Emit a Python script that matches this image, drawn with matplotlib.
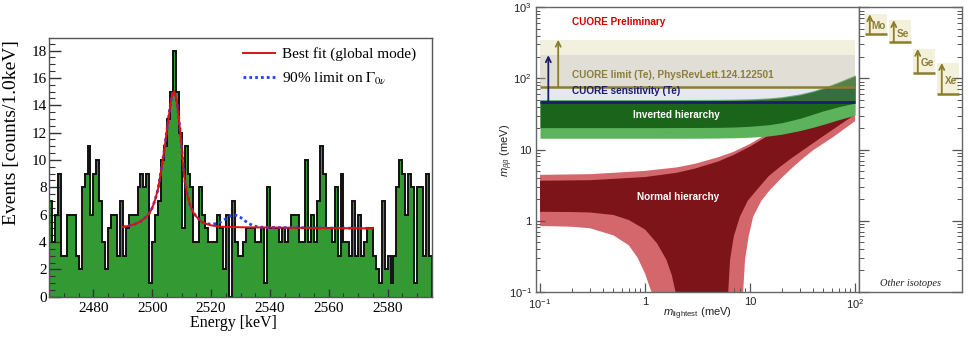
import numpy as np
import matplotlib
matplotlib.use("Agg")
import matplotlib.pyplot as plt
from matplotlib.patches import Rectangle
from matplotlib.ticker import MultipleLocator, FixedLocator, FixedFormatter, LogLocator, NullFormatter

plt.rcParams['mathtext.fontset'] = 'custom'
plt.rcParams['mathtext.rm'] = 'Liberation Sans'
plt.rcParams['mathtext.it'] = 'Liberation Sans:italic'
plt.rcParams['mathtext.bf'] = 'Liberation Sans:bold'

# ---------------- left panel data ----------------
e_start, e_stop, bin_width = 2465, 2595, 1
counts = [7, 4, 6, 9, 3, 3, 6, 6, 6, 3,
          2, 8, 9, 11, 6, 9, 10, 7, 4, 2,
          5, 6, 6, 3, 7, 3, 5, 6, 6, 6,
          8, 9, 8, 9, 1, 4, 6, 7, 10, 11,
          13, 15, 18, 15, 12, 5, 11, 9, 8, 4,
          4, 8, 6, 5, 4, 4, 4, 6, 5, 2,
          6, 0, 7, 4, 3, 3, 4, 5, 5, 5,
          4, 4, 5, 1, 8, 5, 5, 5, 4, 5,
          4, 5, 6, 6, 6, 4, 4, 10, 4, 6,
          4, 7, 11, 9, 5, 5, 4, 8, 3, 9,
          4, 4, 3, 7, 3, 6, 3, 4, 5, 5,
          3, 2, 1, 7, 2, 3, 1, 3, 8, 10,
          9, 6, 9, 8, 1, 8, 8, 3, 9, 3]

fit_x = [2490, 2492, 2494, 2496, 2498, 2499, 2500, 2501, 2502, 2503, 2504, 2505,
         2506, 2506.5, 2507, 2507.5, 2508, 2508.5, 2509, 2509.5, 2510, 2510.5,
         2511, 2512, 2513, 2514, 2515, 2516, 2517, 2518, 2520, 2523, 2530, 2545,
         2560, 2575]
fit_y = [5.10, 5.18, 5.30, 5.50, 5.85, 6.10, 6.50, 7.10, 7.90, 9.20, 10.6, 12.2,
         13.8, 14.5, 14.9, 15.0, 14.6, 14.0, 13.1, 12.1, 10.9, 9.6,
         8.6, 7.4, 6.6, 6.15, 5.85, 5.65, 5.45, 5.35, 5.22, 5.12, 5.08, 5.05,
         5.02, 5.00]

lim_x = [2490, 2492, 2494, 2496, 2498, 2499, 2500, 2501, 2502, 2503, 2504, 2505,
         2506, 2506.5, 2507, 2507.5, 2508, 2508.5, 2509, 2509.5, 2510, 2510.5,
         2511, 2512, 2513, 2514, 2515, 2516, 2517, 2518, 2520, 2522, 2523.5, 2525,
         2526.5, 2527.5, 2528.5, 2530, 2531.5, 2533, 2534.5, 2536, 2538, 2540,
         2545, 2560, 2575]
lim_y = [5.10, 5.18, 5.30, 5.50, 5.85, 6.10, 6.50, 7.10, 7.90, 9.20, 10.6, 12.2,
         13.8, 14.5, 14.9, 15.0, 14.6, 14.0, 13.1, 12.1, 10.9, 9.6,
         8.6, 7.4, 6.6, 6.15, 5.85, 5.65, 5.45, 5.35, 5.30, 5.35, 5.50, 5.70,
         5.90, 5.98, 5.95, 5.80, 5.55, 5.33, 5.18, 5.10, 5.07, 5.06,
         5.05, 5.02, 5.00]

# ---------------- right panel data ----------------
ih_x = [0.1, 1, 3, 5, 7, 10, 15, 20, 30, 40, 50, 70, 100]
ih3_lo = [14.4, 14.4, 14.4, 14.5, 14.6, 14.9, 15.5, 16.4, 18.5, 20.6, 22.6, 26.3, 30.5]
ih3_hi = [50.5, 50.5, 50.6, 50.8, 51.1, 51.7, 53.2, 55.3, 60.7, 67.3, 74.5, 90.0, 112.0]
ih1_lo = [20.3, 20.3, 20.4, 20.5, 20.7, 21.2, 22.3, 23.8, 27.5, 31.5, 35.0, 40.0, 45.0]
ih1_hi = [48.6, 48.6, 48.7, 48.9, 49.2, 49.8, 51.3, 53.3, 58.6, 65.0, 72.0, 87.0, 108.0]

nh3_lo_x = [0.1, 0.2, 0.3, 0.5, 0.7, 0.85, 1.0, 1.1, 1.15, 1.2, 8.5, 8.6, 8.96, 9.7,
            10.7, 12.8, 15.5, 20, 25.8, 32, 40, 60, 100]
nh3_lo_y = [0.84, 0.82, 0.78, 0.62, 0.45, 0.30, 0.18, 0.12, 0.10, 0.001, 0.001, 0.10,
            0.28, 0.60, 1.13, 1.9, 2.7, 4.0, 5.7, 7.5, 9.8, 14.5, 25.0]
nh3_hi_x = [0.1, 0.3, 1, 2, 3, 5, 7, 10, 15, 20, 30, 50, 100]
nh3_hi_y = [4.4, 4.5, 5.0, 5.6, 6.3, 7.8, 9.3, 12.0, 17.0, 22.0, 32.0, 52.0, 102.0]
nh1_lo_x = [0.1, 0.2, 0.3, 0.5, 0.7, 1.0, 1.3, 1.6, 1.8, 1.95, 2.05, 6.1, 6.2, 6.45,
            7.0, 8.0, 9.5, 11.6, 15, 19.3, 25, 32, 50, 100]
nh1_lo_y = [1.33, 1.32, 1.30, 1.20, 1.02, 0.75, 0.48, 0.28, 0.17, 0.10, 0.001, 0.001,
            0.10, 0.28, 0.60, 1.13, 1.9, 2.7, 4.2, 5.7, 7.6, 9.8, 15.5, 31.0]
nh1_hi_x = [0.1, 0.3, 1, 2, 3, 5, 7, 10, 15, 20, 30, 50, 100]
nh1_hi_y = [3.64, 3.70, 4.1, 4.7, 5.4, 6.8, 8.4, 11.0, 15.8, 20.8, 30.6, 50.5, 100.0]

band_x = [0.1, 100]
limit_value = 75
limit_band = (75, 350)
sens_value = 46
sens_band = (46, 212)

isotopes = ["Mo", "Se", "Ge", "Xe"]
iso_lo = [420, 320, 120, 61]
iso_hi = [800, 660, 260, 165]

# ---------------- colours ----------------
hist_green = '#339933'
olive = '#8c7d2a'
navy = '#1c1c6e'
ih_dark, ih_light = '#1a651a', '#5cb35c'
nh_dark, nh_light = '#7d1419', '#d4676c'

fig = plt.figure(figsize=(9.7, 3.37), dpi=100)

# ================= LEFT PANEL =================
ax = fig.add_axes([49.3/970, 1-296.7/337, 382.4/970, 258.4/337])
edges = np.arange(e_start, e_stop + bin_width, bin_width)
ax.stairs(counts, edges, fill=True, facecolor=hist_green, edgecolor='none', zorder=1)
ax.stairs(counts, edges, color='#111111', lw=1.4, zorder=2)
ax.plot(lim_x, lim_y, color='#2040ff', ls=(0, (1, 1.1)), lw=2.0, zorder=3,
        label=r'90% limit on $\Gamma_{0\nu}$')
ax.plot(fit_x, fit_y, color='#dd1111', lw=1.4, zorder=4, label='Best fit (global mode)')
ax.set_xlim(e_start, e_stop)
ax.set_ylim(0, 18.9)
ax.xaxis.set_major_locator(MultipleLocator(20))
ax.xaxis.set_minor_locator(MultipleLocator(5))
ax.yaxis.set_major_locator(MultipleLocator(2))
ax.yaxis.set_minor_locator(MultipleLocator(0.5))
ax.tick_params(which='both', direction='in', top=False, right=False, colors='#333333')
ax.tick_params(axis='y', which='major', length=8.6, width=1.0, pad=2)
ax.tick_params(axis='y', which='minor', length=4.3, width=0.8)
ax.tick_params(axis='x', which='major', length=5.8, width=1.0, pad=4)
ax.tick_params(axis='x', which='minor', length=2.9, width=0.8)
for lab in ax.get_xticklabels() + ax.get_yticklabels():
    lab.set_fontfamily('Liberation Serif')
    lab.set_fontsize(11)
    lab.set_color('black')
for sp in ax.spines.values():
    sp.set_color('#555555')
    sp.set_linewidth(1.0)

h, l = ax.get_legend_handles_labels()
leg = ax.legend(h[::-1], l[::-1], loc='upper left', bbox_to_anchor=(0.5058, 0.965),
                frameon=False, borderaxespad=0, borderpad=0, handlelength=2.1,
                handletextpad=0.5, labelspacing=0.6,
                prop={'family': 'Liberation Serif', 'size': 11})
for t in leg.get_texts():
    t.set_math_fontfamily('stix')

fig.text(233/970, 1-323/337, 'Energy [keV]', ha='center', va='center',
         family='Liberation Serif', fontsize=11.5)
fig.text(12/970, 1-40/337, 'Events [counts/1.0keV]', ha='center', va='top',
         rotation=90, family='Liberation Serif', fontsize=14)

# ================= RIGHT MAIN PANEL =================
axm = fig.add_axes([536/970, 1-291.7/337, 323/970, 284.4/337])
axm.set_xscale('log')
axm.set_yscale('log')
axm.set_xlim(0.0916, 109)
axm.set_ylim(0.1, 1000)

axm.fill(np.concatenate([nh3_lo_x, nh3_hi_x[::-1]]),
         np.concatenate([nh3_lo_y, nh3_hi_y[::-1]]), color=nh_light, lw=0, zorder=1)
axm.fill(np.concatenate([nh1_lo_x, nh1_hi_x[::-1]]),
         np.concatenate([nh1_lo_y, nh1_hi_y[::-1]]), color=nh_dark, lw=0, zorder=2)
axm.fill_between(ih_x, ih3_lo, ih3_hi, color=ih_light, lw=0, zorder=3)
axm.fill_between(ih_x, ih1_lo, ih1_hi, color=ih_dark, lw=0, zorder=4)

axm.fill_between(band_x, sens_band[0], sens_band[1], color='#9696c8', alpha=0.22, lw=0, zorder=5)
axm.fill_between(band_x, limit_band[0], limit_band[1], color='#c8be6e', alpha=0.22, lw=0, zorder=6)

axm.hlines(limit_value, band_x[0], band_x[1], color=olive, lw=1.8, zorder=7)
axm.hlines(sens_value, band_x[0], band_x[1], color=navy, lw=2.0, zorder=7)
axm.annotate('', xy=(0.149, limit_band[1]), xytext=(0.149, limit_value),
             arrowprops=dict(arrowstyle='->', color=olive, lw=1.3, mutation_scale=9,
                             shrinkA=0, shrinkB=0), zorder=8)
axm.annotate('', xy=(0.12, sens_band[1]), xytext=(0.12, sens_value),
             arrowprops=dict(arrowstyle='->', color=navy, lw=1.3, mutation_scale=9,
                             shrinkA=0, shrinkB=0), zorder=8)

txt = dict(family='Liberation Sans', weight='bold', fontsize=7.2, zorder=9)
axm.text(0.2, 620, 'CUORE Preliminary', color='#d40000', va='center', **txt)
axm.text(0.2, 112, 'CUORE limit (Te), PhysRevLett.124.122501', color='#8c7d3a', va='center', **txt)
axm.text(0.2, 67, 'CUORE sensitivity (Te)', color=navy, va='center', **txt)
axm.text(2.0, 30.5, 'Inverted hierarchy', color='white', ha='center', va='center', **txt)
axm.text(2.05, 2.17, 'Normal hierarchy', color='white', ha='center', va='center', **txt)

axm.xaxis.set_major_locator(FixedLocator([0.1, 1, 10, 100]))
axm.xaxis.set_major_formatter(FixedFormatter([r'$10^{-1}$', '1', '10', r'$10^{2}$']))
axm.yaxis.set_major_locator(FixedLocator([0.1, 1, 10, 100, 1000]))
axm.yaxis.set_major_formatter(FixedFormatter([r'$10^{-1}$', '1', '10', r'$10^{2}$', r'$10^{3}$']))
axm.xaxis.set_minor_locator(LogLocator(base=10, subs=np.arange(2, 10), numticks=20))
axm.yaxis.set_minor_locator(LogLocator(base=10, subs=np.arange(2, 10), numticks=20))
axm.xaxis.set_minor_formatter(NullFormatter())
axm.yaxis.set_minor_formatter(NullFormatter())
axm.tick_params(which='both', direction='in', top=False, right=False, colors='#555555',
                labelsize=8, labelcolor='#222222')
axm.tick_params(which='major', length=6.5, width=0.9)
axm.tick_params(which='minor', length=3.0, width=0.7)
axm.tick_params(axis='x', which='major', pad=4)
axm.tick_params(axis='y', which='major', pad=3)
for lab in axm.get_xticklabels() + axm.get_yticklabels():
    lab.set_fontfamily('Liberation Sans')
for sp in axm.spines.values():
    sp.set_color('#666666')
    sp.set_linewidth(1.0)

fig.text(697/970, 1-314/337, r'$m_{\mathrm{lightest}}$ (meV)', ha='center', va='center',
         family='Liberation Sans', fontsize=8, color='#222222')
fig.text(507/970, 1-150/337, r'$m_{\beta\beta}$ (meV)', ha='center', va='center',
         rotation=90, family='Liberation Sans', fontsize=8, color='#222222')

# ================= SIDE PANEL =================
axs = fig.add_axes([859/970, 1-291.7/337, 102.7/970, 284.4/337])
axs.set_yscale('log')
axs.set_ylim(0.1, 1000)
axs.set_xlim(-0.25, 4.03)
axs.set_xticks([])
axs.yaxis.set_major_locator(FixedLocator([0.1, 1, 10, 100, 1000]))
axs.yaxis.set_minor_locator(LogLocator(base=10, subs=np.arange(2, 10), numticks=20))
axs.yaxis.set_major_formatter(NullFormatter())
axs.yaxis.set_minor_formatter(NullFormatter())
axs.tick_params(which='both', direction='in', left=True, right=True, colors='#555555')
axs.tick_params(which='major', length=7.5, width=0.9)
axs.tick_params(which='minor', length=3.5, width=0.7)
for sp in axs.spines.values():
    sp.set_color('#666666')
    sp.set_linewidth(1.0)

for i, (name, lo, hi) in enumerate(zip(isotopes, iso_lo, iso_hi)):
    axs.add_patch(Rectangle((i, lo), 0.9, hi - lo, facecolor='#f3f1dc', edgecolor='none', zorder=1))
    axs.hlines(lo, i, i + 0.9, color=olive, lw=1.8, zorder=2)
    axs.annotate('', xy=(i + 0.2, hi), xytext=(i + 0.2, lo),
                 arrowprops=dict(arrowstyle='->', color=olive, lw=1.3, mutation_scale=9,
                                 shrinkA=0, shrinkB=0), zorder=3)
    axs.text(i + 0.58, lo * (hi / lo) ** 0.4, name, ha='center', va='center',
             color='#8c7d3a', family='Liberation Sans', weight='bold', fontsize=7.2, zorder=4)

axs.text(0.5, 0.03, 'Other isotopes', transform=axs.transAxes, ha='center', va='center',
         family='Liberation Serif', style='italic', fontsize=7.5, color='#222222')

fig.savefig('out.png', dpi=100)
